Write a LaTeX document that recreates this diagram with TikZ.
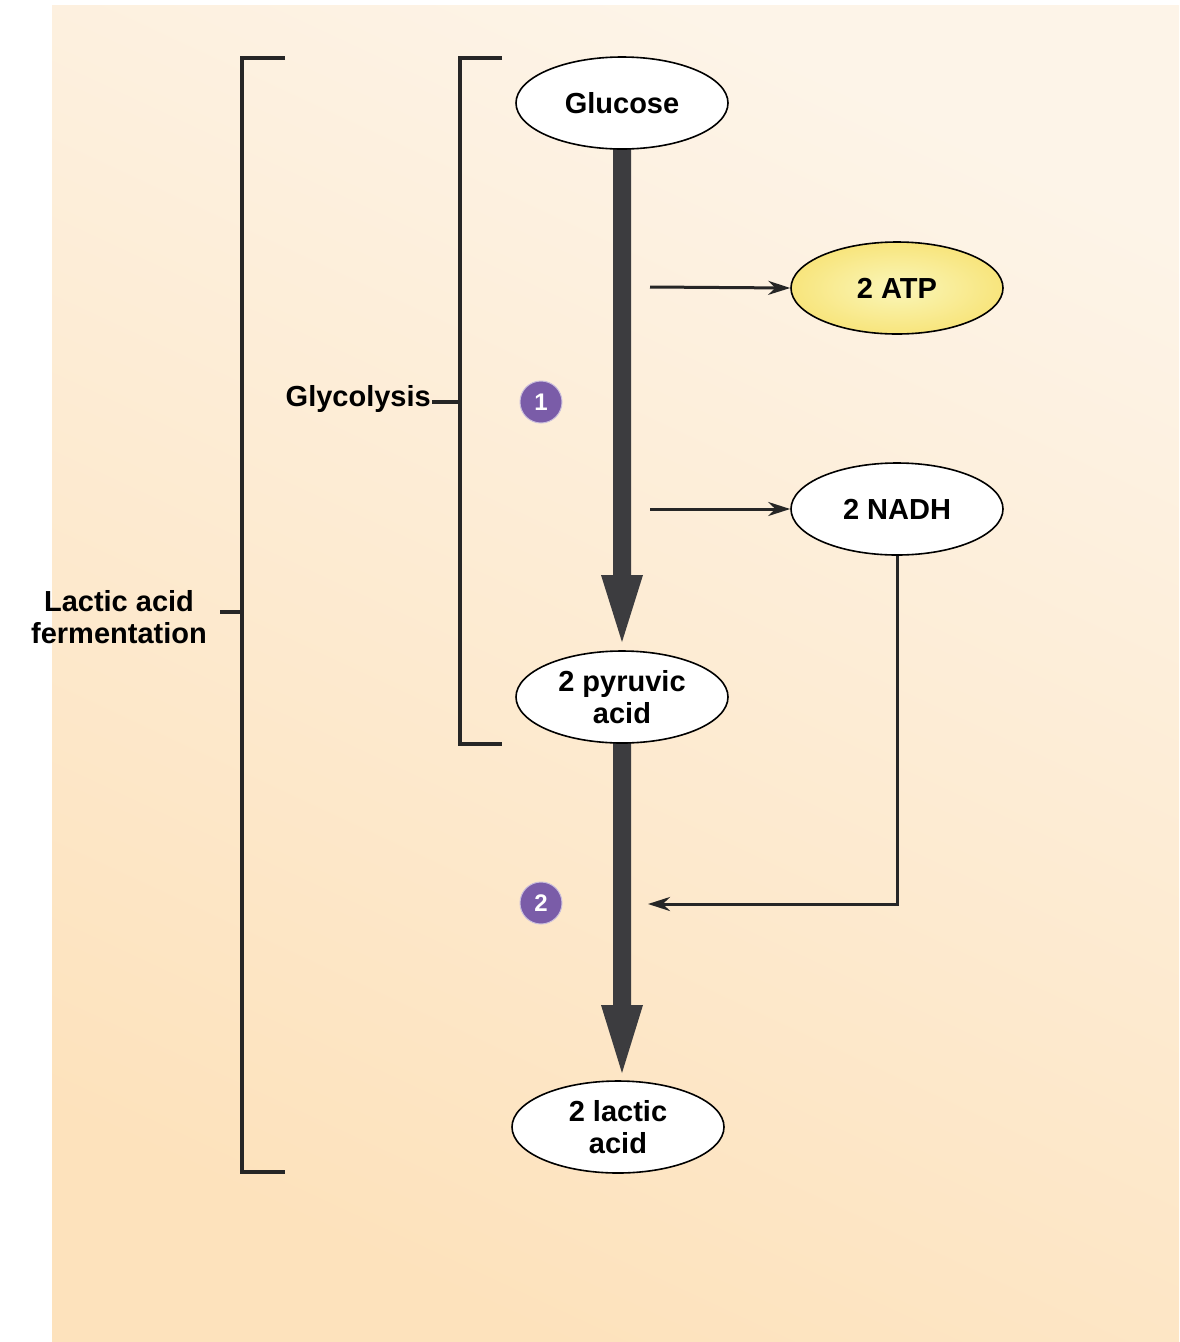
\documentclass[tikz,border=0pt]{standalone}
\usepackage{fontspec}
\setmainfont{Liberation Sans}
\usetikzlibrary{shapes.geometric,arrows.meta}
\definecolor{bgA}{HTML}{FDF4E8}
\definecolor{bgB}{HTML}{FDE2BC}
\definecolor{shaft}{HTML}{3C3C3F}
\definecolor{purp}{HTML}{7A5CA8}
\definecolor{ylw}{HTML}{F7F08A}
\begin{document}
\begin{tikzpicture}[x=1pt,y=-1pt,
  every node/.style={font=\fontsize{29}{36}\selectfont\bfseries},
  oval/.style={ellipse,draw=black,line width=1.6pt,fill=white,minimum width=212,minimum height=92,inner sep=0pt,align=center},
  stepc/.style={circle,draw=white!60!purp,line width=1pt,fill=purp,text=white,minimum size=42,inner sep=0pt,font=\fontsize{24}{24}\selectfont\bfseries},
  thin/.style={line width=3pt,draw=black!85,-{Stealth[length=22pt,width=14pt]}},
  brk/.style={line width=3.5pt,draw=black!85}]
\useasboundingbox (0,0) rectangle (1179,1342);
\fill[white] (0,0) rectangle (1179,1342);
\shade[top color=bgA,bottom color=bgB,shading angle=-25] (52,5) rectangle (1179,1342);
% thick arrows
\fill[shaft] (613,149) -- (631,149) -- (631,575) -- (643,575) -- (622,642) -- (601,575) -- (613,575) -- cycle;
\fill[shaft] (613,743) -- (631,743) -- (631,1005) -- (643,1005) -- (622,1073) -- (601,1005) -- (613,1005) -- cycle;
\node[oval] (glu) at (622,103) {Glucose};
\node[oval,inner color=white!40!ylw,outer color=ylw!90!orange] (atp) at (897,288) {2 ATP};
\node[oval] (nadh) at (897,509) {2 NADH};
\node[oval] (pyr) at (622,697) {2 pyruvic\\[-4pt]acid};
\node[oval] (lac) at (618,1127) {2 lactic\\[-4pt]acid};
\coordinate (a1) at (650,287);
\coordinate (a2) at (650,509);
\coordinate (a3) at (648,904);
\draw[thin] (a1) -- (atp.west);
\draw[thin] (a2) -- (nadh.west);
\draw[thin] (nadh.south) |- (a3);
\node[stepc] (s1) at (541,402) {1};
\node[stepc] (s2) at (541,903) {2};
% brackets
\draw[brk] (502,58) -- (460,58) -- (460,744) -- (502,744);
\draw[brk] (432,402) -- (460,402);
\node[anchor=east,inner sep=0pt] (gly) at (431,399) {Glycolysis};
\draw[brk] (285,58) -- (242,58) -- (242,1172) -- (285,1172);
\draw[brk] (220,612) -- (242,612);
\node[align=center,inner sep=0pt] (laf) at (119,617) {Lactic acid\\[-4pt]fermentation};
\end{tikzpicture}
\end{document}
